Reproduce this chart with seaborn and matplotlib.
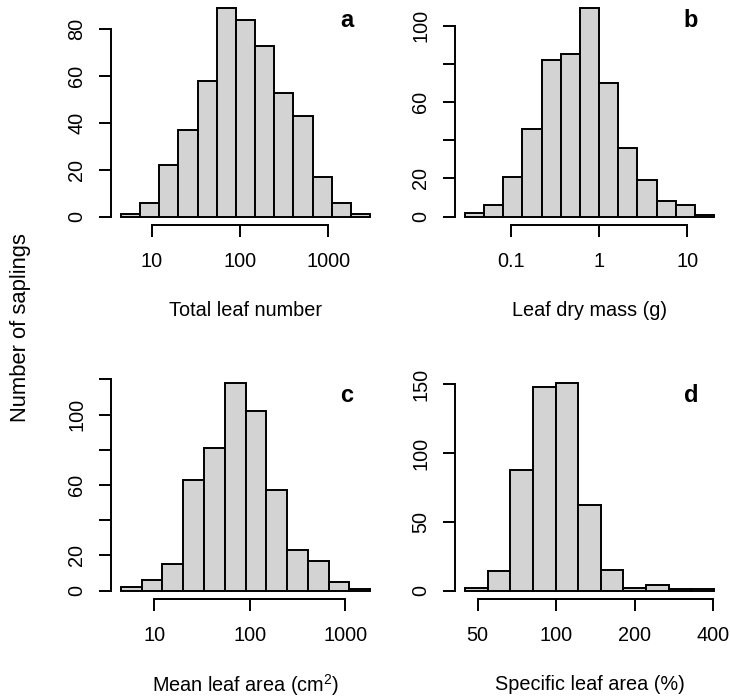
import matplotlib
matplotlib.use("Agg")
import numpy as np
import pandas as pd
import seaborn as sns
import matplotlib.pyplot as plt

# histogram counts; bins are on the natural-log scale
leaf_number_counts = [1, 6, 22, 37, 58, 89, 84, 73, 53, 43, 17, 6, 1]
leaf_mass_counts = [2, 6, 21, 46, 82, 85, 109, 70, 36, 19, 8, 6, 1]
leaf_area_counts = [2, 6, 15, 63, 81, 118, 102, 57, 23, 17, 5, 1]
sla_counts = [2, 14, 88, 148, 151, 62, 15, 2, 4, 1, 1]

# first break (ln units) and bin width for each trait
leaf_number_bins = (1.5, 0.5)
leaf_mass_bins = (-3.5, 0.5)
leaf_area_bins = (1.5, 0.5)
sla_bins = (3.8, 0.2)

leaf_number_ticks = [10, 100, 1000]
leaf_mass_ticks = [0.1, 1, 10]
leaf_area_ticks = [10, 100, 1000]
sla_ticks = [50, 100, 200, 400]

sns.set_style("ticks")
plt.rcParams["font.family"] = ["Liberation Sans", "DejaVu Sans"]
plt.rcParams["mathtext.fontset"] = "custom"
plt.rcParams["mathtext.rm"] = "Liberation Sans"
plt.rcParams["mathtext.it"] = "Liberation Sans:italic"
for key in ["text.color", "axes.labelcolor", "xtick.color", "ytick.color", "axes.edgecolor"]:
    plt.rcParams[key] = "black"

panels = [
    (leaf_number_counts, leaf_number_bins, leaf_number_ticks, ["10", "100", "1000"],
     [0, 20, 40, 60, 80], ["0", "20", "40", "60", "80"], "Total leaf number", "a"),
    (leaf_mass_counts, leaf_mass_bins, leaf_mass_ticks, ["0.1", "1", "10"],
     [0, 20, 40, 60, 80, 100], ["0", "20", "", "60", "", "100"], "Leaf dry mass (g)", "b"),
    (leaf_area_counts, leaf_area_bins, leaf_area_ticks, ["10", "100", "1000"],
     [0, 20, 40, 60, 80, 100, 120], ["0", "20", "", "60", "", "100", ""],
     r"Mean leaf area (cm$^2$)", "c"),
    (sla_counts, sla_bins, sla_ticks, ["50", "100", "200", "400"],
     [0, 50, 100, 150], ["0", "50", "100", "150"], "Specific leaf area (%)", "d"),
]

W, H = 730, 700
fig = plt.figure(figsize=(W / 100, H / 100), dpi=100)

# plot regions in pixels: left, top, right, bottom
boxes = [(111, 0, 380, 225), (455, 0, 724, 225),
         (111, 374.5, 380, 599), (455, 374.5, 724, 599)]

for (counts, (start, width), xt, xtl, yt, ytl, xlab, letter), (l, t, r, b) in zip(panels, boxes):
    ax = fig.add_axes([l / W, 1 - b / H, (r - l) / W, (b - t) / H])
    n = len(counts)
    edges = [start + width * i for i in range(n + 1)]
    df = pd.DataFrame({"x": [(edges[i] + edges[i + 1]) / 2 for i in range(n)],
                       "count": counts})
    sns.histplot(data=df, x="x", weights="count", bins=edges, ax=ax,
                 color="#D3D3D3", edgecolor="black", linewidth=1.4, alpha=1)

    lo, hi = edges[0], edges[-1]
    pad = 0.04 * (hi - lo)
    ax.set_xlim(lo - pad, hi + pad)
    ymax = max(counts)
    ax.set_ylim(-0.04 * ymax, 1.04 * ymax)

    ax.set_xticks(np.log(xt))
    ax.set_xticklabels(xtl)
    ax.set_yticks(yt)
    ax.set_yticklabels(ytl, rotation=90, va="center")

    for side in ["top", "right"]:
        ax.spines[side].set_visible(False)
    ax.spines["left"].set_bounds(yt[0], yt[-1])
    ax.spines["bottom"].set_bounds(np.log(xt[0]), np.log(xt[-1]))
    for side in ["left", "bottom"]:
        ax.spines[side].set_linewidth(1.4)
    ax.tick_params(axis="x", direction="out", length=8.4, width=1.4, labelsize=14.3, pad=11)
    ax.tick_params(axis="y", direction="out", length=8.4, width=1.4, labelsize=14.3, pad=9.4)

    ax.set_ylabel("")
    ax.set_xlabel(xlab, fontsize=14.3)
    ax.xaxis.set_label_coords(0.5, -(86 / (b - t)))
    ax.xaxis.label.set_va("center")

    ax.text(0.877, 1 - 20.5 / (b - t), letter, transform=ax.transAxes,
            fontsize=17, fontweight="bold", ha="center", va="center")

fig.text(21 / W, 1 - 328 / H, "Number of saplings", rotation=90,
         ha="center", va="center", fontsize=15.8)

fig.savefig("out.png", dpi=100)
